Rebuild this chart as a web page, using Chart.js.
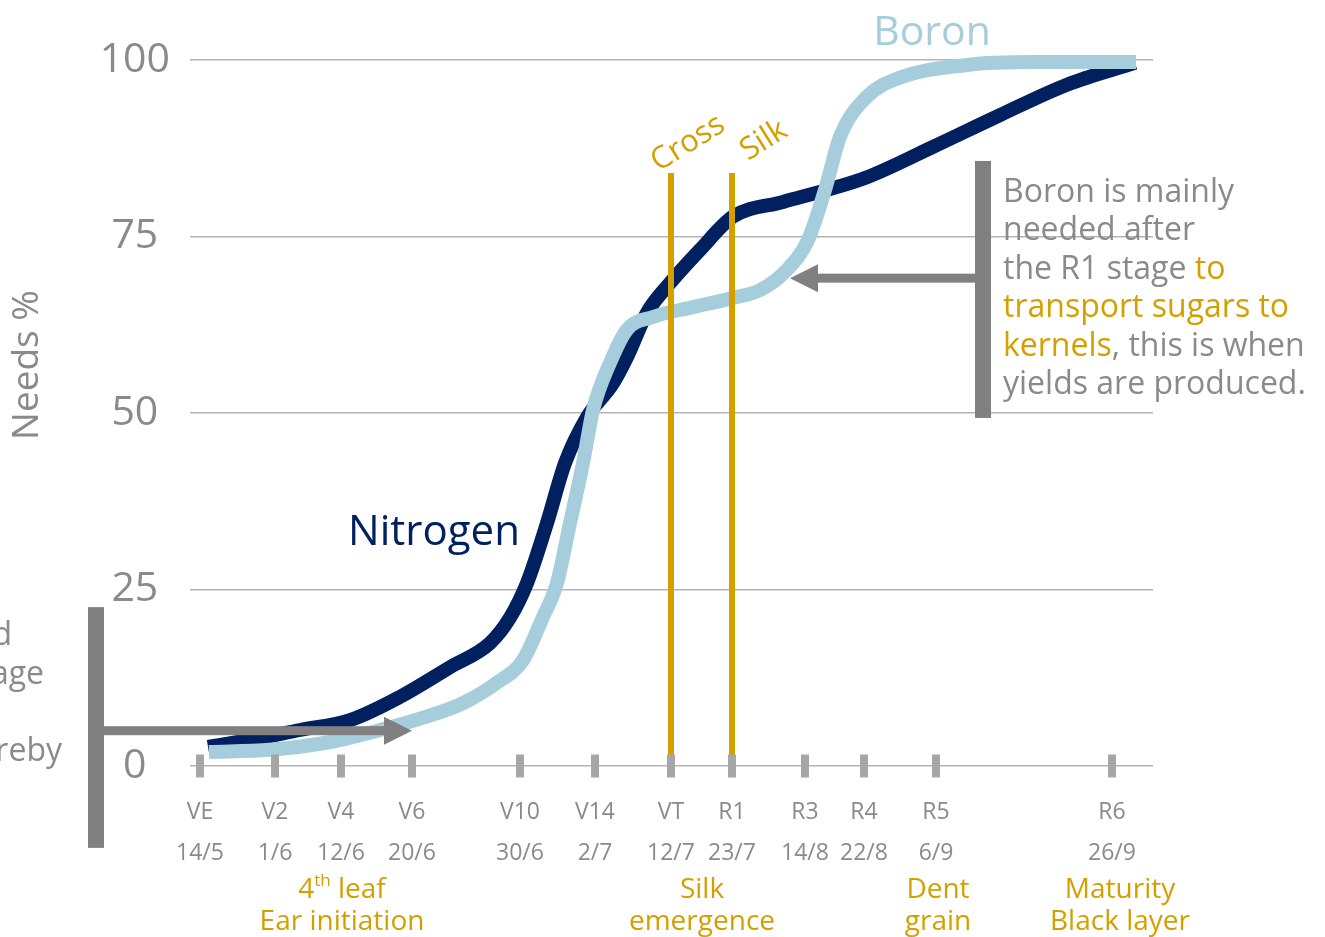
<!DOCTYPE html>
<html>
<head>
<meta charset="utf-8">
<script src="https://cdn.jsdelivr.net/npm/chart.js@4.4.1/dist/chart.umd.min.js"></script>
<style>
  html, body { margin: 0; padding: 0; background: #fff; }
  #wrap { width: 1325px; height: 937px; position: relative; }
</style>
</head>
<body>
<div id="wrap"><canvas id="needsChart"></canvas></div>
<script>
// growth stages and their dates (x axis)
const stageNames = ['VE', 'V2', 'V4', 'V6', 'V10', 'V14', 'VT', 'R1', 'R3', 'R4', 'R5', 'R6'];
const stageDates = ['14/5', '1/6', '12/6', '20/6', '30/6', '2/7', '12/7', '23/7', '14/8', '22/8', '6/9', '26/9'];
// stage position on the growth axis (spacing is uneven in the original)
const stagePos = [1.0, 8.5, 15.1, 22.2, 33.0, 40.5, 48.1, 54.2, 61.5, 67.4, 74.6, 92.2];
const yTicks = [0, 25, 50, 75, 100];

// needs % along the growth axis
const nitrogenX = [1.8, 6.0, 11.0, 16.0, 21.0, 26.0, 30.0, 32.0, 33.7, 35.7, 37.5, 39.7, 42.3, 43.7, 45.7, 48.0, 51.0, 54.3, 59.3, 63.7, 67.7, 74.3, 81.0, 87.7, 94.5];
const nitrogenY = [2.7, 3.7, 5.1, 6.5, 9.8, 14.0, 17.4, 21.0, 25.9, 34.4, 42.9, 49.4, 54.2, 57.9, 64.2, 68.4, 73.1, 77.8, 79.9, 81.6, 83.4, 87.7, 92.2, 96.5, 99.6];

const boronX = [1.9, 8.0, 14.0, 19.0, 23.0, 27.3, 30.7, 33.3, 35.3, 36.7, 38.0, 39.3, 40.3, 42.0, 43.7, 46.3, 50.3, 54.3, 57.0, 59.7, 61.8, 63.5, 65.0, 67.7, 71.0, 77.7, 84.3, 94.6];
const boronY = [2.0, 2.3, 3.4, 5.1, 6.7, 8.9, 11.8, 15.0, 21.1, 25.9, 34.4, 42.9, 50.4, 57.1, 61.8, 63.6, 65.0, 66.3, 67.4, 70.3, 74.5, 81.6, 89.1, 94.8, 97.5, 99.3, 99.7, 99.7];

// cross (VT) and silk (R1) marker lines
const markerStages = ['VT', 'R1'];
const markerLabels = ['Cross', 'Silk'];
const markerTop = 84;

const NAVY = '#002060';
const LIGHT = '#a6cddc';
const GOLD = '#d4a000';
const GREY = '#808080';
const TEXT_GREY = '#8a8a8a';
const FONT = "'Open Sans', sans-serif";

Chart.defaults.font.family = FONT;

function toPoints(xs, ys) {
    return xs.map((x, i) => ({ x: x, y: ys[i] }));
}

const markerDatasets = markerStages.map(s => {
    const pos = stagePos[stageNames.indexOf(s)];
    return {
        label: s,
        data: [{ x: pos, y: 0 }, { x: pos, y: markerTop }],
        borderColor: GOLD,
        borderWidth: 6,
        borderCapStyle: 'butt',
        pointRadius: 0,
        clip: false,
        order: 1
    };
});

function drawArrow(ctx, x0, x1, y, head) {
    // shaft from x0 to the base of the head, head pointing at x1
    const dir = x1 > x0 ? 1 : -1;
    ctx.fillStyle = GREY;
    ctx.fillRect(Math.min(x0, x1 - dir * head), y - 4.5, Math.abs(x1 - dir * head - x0), 9);
    ctx.beginPath();
    ctx.moveTo(x1, y);
    ctx.lineTo(x1 - dir * head, y - 14);
    ctx.lineTo(x1 - dir * head, y + 14);
    ctx.closePath();
    ctx.fill();
}

function drawRuns(ctx, runs, x, y) {
    runs.forEach(r => {
        ctx.fillStyle = r[1];
        ctx.fillText(r[0], x, y);
        x += ctx.measureText(r[0]).width;
    });
}

const annotations = {
    id: 'annotations',
    afterDatasetsDraw(chart) {
        const ctx = chart.ctx;
        const px = v => chart.scales.x.getPixelForValue(v);
        const py = v => chart.scales.y.getPixelForValue(v);
        ctx.save();
        ctx.textBaseline = 'middle';

        // series names
        ctx.textAlign = 'center';
        ctx.font = '41px ' + FONT;
        ctx.fillStyle = LIGHT;
        ctx.fillText('Boron', px(74.2), py(103.8));
        ctx.font = '42px ' + FONT;
        ctx.fillStyle = NAVY;
        ctx.fillText('Nitrogen', px(24.4), py(33.0));

        // rotated marker labels
        ctx.font = '31px ' + FONT;
        ctx.fillStyle = GOLD;
        const labelAt = [[49.8, 88.2], [57.4, 88.6]];
        markerLabels.forEach((t, i) => {
            ctx.save();
            ctx.translate(px(labelAt[i][0]), py(labelAt[i][1]));
            ctx.rotate(-32 * Math.PI / 180);
            ctx.fillText(t, 0, 0);
            ctx.restore();
        });

        // y title
        ctx.save();
        ctx.font = '37px ' + FONT;
        ctx.fillStyle = TEXT_GREY;
        ctx.translate(px(-16.3), py(56.8));
        ctx.rotate(-Math.PI / 2);
        ctx.fillText('Needs %', 0, 0);
        ctx.restore();

        // right bracket and arrow
        ctx.fillStyle = GREY;
        ctx.fillRect(px(79.3) - 8, py(85.7), 16, py(49.3) - py(85.7));
        drawArrow(ctx, px(79.3), px(60.0), py(69.1), 28);

        // left bracket and arrow
        ctx.fillRect(px(-9.4) - 8, py(22.5), 16, py(-11.6) - py(22.5));
        drawArrow(ctx, px(-9.4), px(22.2), py(5.0), 28);

        // right explanation text
        ctx.textAlign = 'left';
        ctx.font = '32px ' + FONT;
        const lines = [
            [['Boron is mainly', TEXT_GREY]],
            [['needed after', TEXT_GREY]],
            [['the R1 stage ', TEXT_GREY], ['to', GOLD]],
            [['transport sugars to', GOLD]],
            [['kernels', GOLD], [', this is when', TEXT_GREY]],
            [['yields are produced.', TEXT_GREY]]
        ];
        lines.forEach((runs, i) => drawRuns(ctx, runs, px(81.3), py(81.2) + i * 38.5));

        // cut-off text on the left edge
        ctx.textAlign = 'right';
        ctx.fillStyle = TEXT_GREY;
        ctx.fillText('d', px(-17.8), py(18.4));
        ctx.fillText('age', px(-14.6), py(12.9));
        ctx.fillText('reby', px(-12.8), py(2.0));

        // stage descriptions under the axis
        ctx.fillStyle = GOLD;
        const lineA = py(-17.6), lineB = py(-22.1);
        const big = '28px ' + FONT, small = '17px ' + FONT;
        // 4th leaf with superscript
        ctx.font = big;
        const w4 = ctx.measureText('4').width, wl = ctx.measureText(' leaf').width;
        ctx.font = small;
        const wth = ctx.measureText('th').width;
        const sx = px(15.2) - (w4 + wth + wl) / 2;
        ctx.textAlign = 'left';
        ctx.font = big;
        ctx.fillText('4', sx, lineA);
        ctx.font = small;
        ctx.fillText('th', sx + w4, lineA - 9);
        ctx.font = big;
        ctx.fillText(' leaf', sx + w4 + wth, lineA);
        ctx.textAlign = 'center';
        ctx.fillText('Ear initiation', px(15.2), lineB);
        ctx.fillText('Silk', px(51.2), lineA);
        ctx.fillText('emergence', px(51.2), lineB);
        ctx.fillText('Dent', px(74.8), lineA);
        ctx.fillText('grain', px(74.8), lineB);
        ctx.fillText('Maturity', px(93.0), lineA);
        ctx.fillText('Black layer', px(93.0), lineB);

        ctx.restore();
    }
};

new Chart(document.getElementById('needsChart'), {
    type: 'line',
    data: {
        datasets: [
            {
                label: 'stage ticks',
                data: stagePos.map(p => ({ x: p, y: 0 })),
                showLine: false,
                pointStyle: 'line',
                rotation: 90,
                pointRadius: 11.5,
                pointBorderWidth: 8,
                pointBorderColor: '#a6a6a6',
                clip: false,
                order: 0
            },
            ...markerDatasets,
            {
                label: 'Boron',
                data: toPoints(boronX, boronY),
                borderColor: LIGHT,
                borderWidth: 14,
                borderCapStyle: 'butt',
                cubicInterpolationMode: 'monotone',
                pointRadius: 0,
                clip: false,
                order: 2
            },
            {
                label: 'Nitrogen',
                data: toPoints(nitrogenX, nitrogenY),
                borderColor: NAVY,
                borderWidth: 14,
                borderCapStyle: 'butt',
                cubicInterpolationMode: 'monotone',
                pointRadius: 0,
                clip: false,
                order: 3
            }
        ]
    },
    options: {
        responsive: true,
        maintainAspectRatio: false,
        animation: false,
        layout: { padding: { left: 0, right: 172, top: 60, bottom: 0 } },
        plugins: {
            legend: { display: false },
            tooltip: { enabled: false }
        },
        scales: {
            x: {
                type: 'linear',
                min: 0,
                max: 96.3,
                grid: { display: false },
                border: { display: false },
                afterFit: scale => { scale.height = 171; },
                afterBuildTicks: scale => { scale.ticks = stagePos.map(v => ({ value: v })); },
                ticks: {
                    autoSkip: false,
                    maxRotation: 0,
                    padding: 18,
                    color: TEXT_GREY,
                    font: { size: 23, lineHeight: 1.78 },
                    callback: (v, i) => [stageNames[i], stageDates[i]]
                }
            },
            y: {
                min: 0,
                max: 100,
                afterFit: scale => { scale.width = 190; },
                afterBuildTicks: scale => { scale.ticks = yTicks.map(v => ({ value: v })); },
                grid: { color: '#b4b4b4', lineWidth: 1.5, drawTicks: false },
                border: { display: false },
                ticks: {
                    padding: 20,
                    crossAlign: 'center',
                    color: TEXT_GREY,
                    font: { size: 41 }
                }
            }
        }
    },
    plugins: [annotations]
});
</script>
</body>
</html>
